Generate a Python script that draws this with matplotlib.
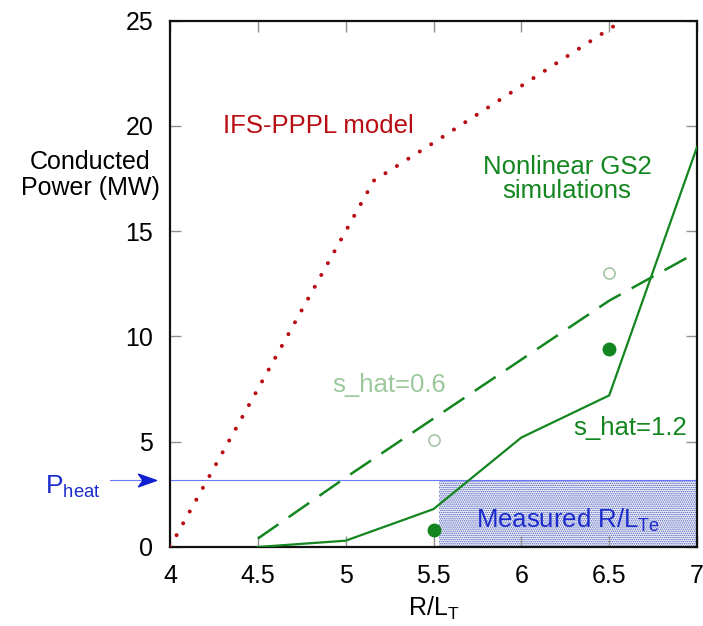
import matplotlib
matplotlib.use("Agg")
import matplotlib.pyplot as plt
from matplotlib.patches import Rectangle
from matplotlib.path import Path

plt.rcParams["font.family"] = ["Liberation Sans", "DejaVu Sans"]
plt.rcParams["mathtext.fontset"] = "custom"
plt.rcParams["mathtext.rm"] = "Liberation Sans"
plt.rcParams["mathtext.it"] = "Liberation Sans"
plt.rcParams["hatch.linewidth"] = 0.7

# data
ifs_x = [4.0, 4.5, 5.0, 5.16, 5.5, 6.0, 6.5, 6.65]
ifs_y = [0.0, 7.5, 15.0, 17.4, 19.2, 21.9, 24.6, 25.4]

gs2_x = [4.5, 5.0, 5.5, 6.0, 6.5, 7.0]
shat12_y = [0.0, 0.3, 1.8, 5.2, 7.2, 19.0]
shat06_y = [0.4, 3.3, 6.1, 8.9, 11.7, 14.0]

open_x = [5.5, 6.5]
open_y = [5.1, 13.0]
filled_x = [5.5, 6.5]
filled_y = [0.8, 9.4]

p_heat = 3.2
measured_lo, measured_hi = 5.53, 7.0

RED = "#b80c12"
GREEN = "#13861f"
LIGHT_GREEN = "#9cc89c"
BLUE = "#1c2ccc"

fig = plt.figure(figsize=(7.03, 6.26), dpi=100)
ax = fig.add_axes([0.2418, 0.1262, 0.7497, 0.8408])

# measured R/L_Te region
ax.add_patch(Rectangle((measured_lo, 0), measured_hi - measured_lo, p_heat,
                       facecolor="#f0f2fb", edgecolor="#4e5eb8", hatch="........",
                       linewidth=0, zorder=1))
ax.text((measured_lo + measured_hi) / 2, 1.25, r"Measured R/L$_{\rm Te}$",
        color=BLUE, fontsize=18.5, ha="center", va="center", zorder=3)

# P_heat line with arrow outside the axes
ax.axhline(p_heat, color="#6a78ff", lw=0.8, zorder=2)
ax.plot([3.66, 3.88], [p_heat, p_heat], color="#6a78ff", lw=0.8, clip_on=False)
arrow_head = Path([(-1, -0.7), (1, 0), (-1, 0.7), (-0.5, 0), (-1, -0.7)],
                  [Path.MOVETO, Path.LINETO, Path.LINETO, Path.LINETO, Path.CLOSEPOLY])
ax.plot([3.87], [p_heat], marker=arrow_head, color="#1020d0", markersize=13,
        clip_on=False, zorder=2)
fig.text(45 / 703, 1 - 487 / 626, r"P$_{\rm heat}$", color=BLUE, fontsize=19,
         ha="left", va="center")

ax.plot(ifs_x, ifs_y, color=RED, lw=2.9, linestyle=(0, (0.01, 3.35)),
        dash_capstyle="round", zorder=3)
ax.plot(gs2_x, shat12_y, color=GREEN, lw=1.6, zorder=3)
ax.plot(gs2_x, shat06_y, color=GREEN, lw=1.8, dashes=(10, 5), zorder=3)
ax.plot(open_x, open_y, "o", markersize=8, markerfacecolor="white",
        markeredgecolor="#a8c4a8", markeredgewidth=1.2, zorder=4)
ax.plot(filled_x, filled_y, "o", markersize=9, color=GREEN, zorder=4)

ax.text(4.3, 20.0, "IFS-PPPL model", color=RED, fontsize=18.5, ha="left", va="center")
ax.text(6.26, 17.5, "Nonlinear GS2\nsimulations", color=GREEN, fontsize=18.5,
        ha="center", va="center", linespacing=1.0)
ax.text(5.25, 7.7, "s_hat=0.6", color=LIGHT_GREEN, fontsize=18.5, ha="center", va="center")
ax.text(6.62, 5.65, "s_hat=1.2", color=GREEN, fontsize=18.5, ha="center", va="center")

ax.set_xlim(4, 7)
ax.set_ylim(0, 25)
ax.set_xticks([4, 4.5, 5, 5.5, 6, 6.5, 7])
ax.set_xticklabels(["4", "4.5", "5", "5.5", "6", "6.5", "7"])
ax.set_yticks([0, 5, 10, 15, 20, 25])
ax.tick_params(direction="in", length=8, width=1, color="#909090",
               top=True, right=True, labelsize=18, pad=12)
for side in ax.spines.values():
    side.set_linewidth(1.6)
    side.set_color("#111111")

ax.set_xlabel(r"R/L$_{\rm T}$", fontsize=18, labelpad=5)
fig.text(90 / 703, 1 - 175 / 626, "Conducted\nPower (MW)", fontsize=18,
         ha="center", va="center", multialignment="center", linespacing=1.1)

fig.savefig("out.png", dpi=100)
